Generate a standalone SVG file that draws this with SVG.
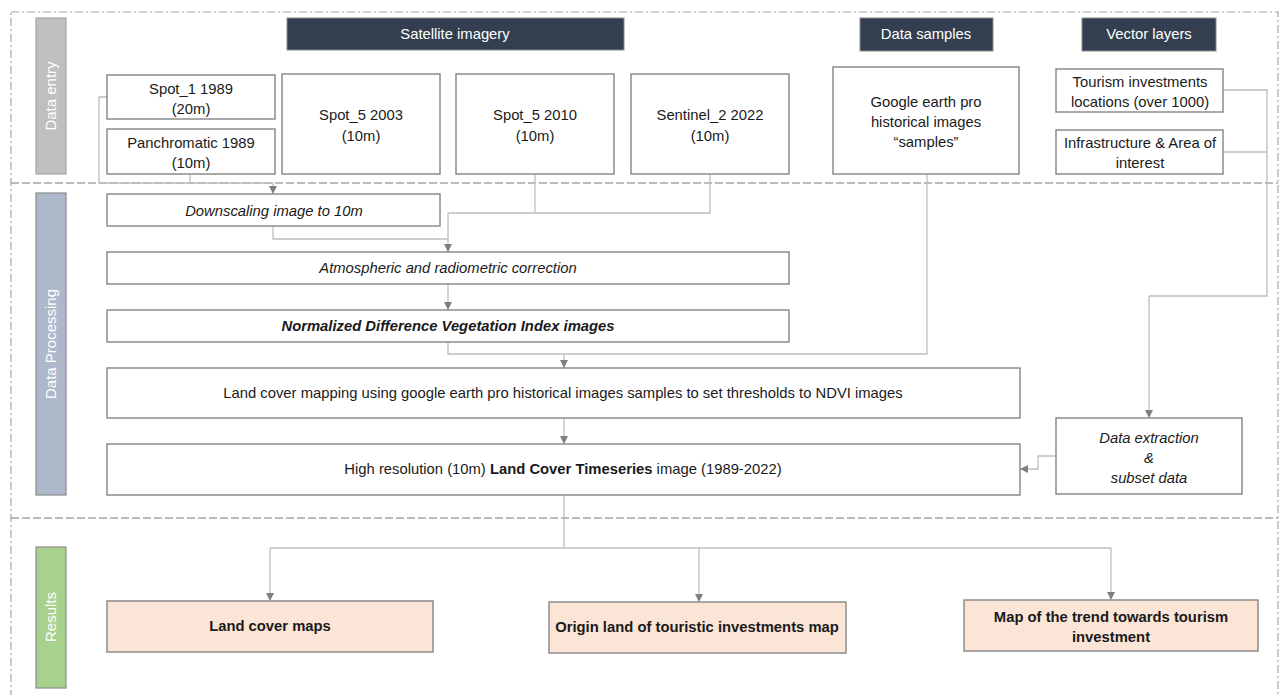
<svg xmlns="http://www.w3.org/2000/svg" width="1282" height="695" viewBox="0 0 1282 695">
<style>
text{font-family:"Liberation Sans",Arial,sans-serif;font-size:14.8px;fill:#1a1a1a;text-anchor:middle}
.box{fill:#fff;stroke:#8c8c8c;stroke-width:1.5}
.res{fill:#fbe5d6;stroke:#8c8c8c;stroke-width:1.5}
.hdr{fill:#333f50;stroke:#8c8c8c;stroke-width:1}
.hdr-t{fill:#fff}
.side-t{fill:#fff;font-size:15px}
.it{font-style:italic}
.bd{font-weight:bold}
.con{fill:none;stroke:#bfbfbf;stroke-width:1.3}
.arr{marker-end:url(#ah)}
.sep{fill:none;stroke:#a6a6a6;stroke-width:1.3;stroke-dasharray:8 3}
.outer{fill:none;stroke:#a6a6a6;stroke-width:1.2;stroke-dasharray:8 3 2 3}
</style>
<defs>
<marker id="ah" markerUnits="userSpaceOnUse" markerWidth="9" markerHeight="8" refX="8" refY="4" orient="auto">
<path d="M0,0 L8,4 L0,8 z" fill="#7f7f7f"/>
</marker>
</defs>
<rect width="1282" height="695" fill="#fff"/>
<g id="frame">
<rect class="outer" x="11" y="12" width="1267" height="700"/>
<line class="sep" x1="11" y1="183" x2="1278" y2="183"/>
<line class="sep" x1="11" y1="518" x2="1278" y2="518"/>
</g>
<g id="connectors">
<polyline class="con" points="107,97 99,97 99,183 273,183"/>
<polyline class="con" points="190,174 190,183"/>
<polyline class="con arr" points="273,183 273,194"/>
<polyline class="con" points="273,226 273,239 448,239"/>
<polyline class="con" points="535,174 535,213"/>
<polyline class="con" points="710,174 710,213 448,213"/>
<polyline class="con arr" points="448,213 448,252"/>
<polyline class="con arr" points="448,284 448,310"/>
<polyline class="con" points="448,342 448,354 927,354 927,174"/>
<polyline class="con arr" points="564,354 564,368"/>
<polyline class="con arr" points="564,418 564,444"/>
<polyline class="con" points="1223,90 1267,90 1267,296 1149,296"/>
<polyline class="con" points="1223,152 1267,152"/>
<polyline class="con arr" points="1149,296 1149,418"/>
<polyline class="con arr" points="1056,456 1038,456 1038,469 1020,469"/>
<polyline class="con" points="564,495 564,548"/>
<polyline class="con" points="270,548 1111,548"/>
<polyline class="con arr" points="270,548 270,601"/>
<polyline class="con arr" points="699,548 699,602"/>
<polyline class="con arr" points="1111,548 1111,600"/>
</g>
<g id="side-data-entry">
<rect x="36" y="18" width="30" height="156" fill="#bfbfbf" stroke="#a6a6a6" stroke-width="1.2"/>
<text class="side-t" transform="translate(56,96) rotate(-90)">Data entry</text>
</g>
<g id="side-data-processing">
<rect x="36" y="193" width="30" height="302" fill="#adb9ca" stroke="#8c8c8c" stroke-width="1.2"/>
<text class="side-t" transform="translate(56,344) rotate(-90)">Data Processing</text>
</g>
<g id="side-results">
<rect x="36" y="547" width="30" height="141" fill="#a9d18e" stroke="#8c8c8c" stroke-width="1.2"/>
<text class="side-t" transform="translate(56,617) rotate(-90)">Results</text>
</g>
<g id="hdr-satellite">
<rect class="hdr" x="287" y="18" width="337" height="32"/>
<text class="hdr-t" x="455" y="39">Satellite imagery</text>
</g>
<g id="hdr-samples">
<rect class="hdr" x="860" y="18" width="133" height="33"/>
<text class="hdr-t" x="926" y="39">Data samples</text>
</g>
<g id="hdr-vector">
<rect class="hdr" x="1082" y="18" width="134" height="33"/>
<text class="hdr-t" x="1149" y="39">Vector layers</text>
</g>
<g id="spot1">
<rect class="box" x="107" y="75" width="168" height="44"/>
<text x="191" y="94">Spot_1 1989</text>
<text x="191" y="114">(20m)</text>
</g>
<g id="panchromatic">
<rect class="box" x="107" y="129" width="168" height="45"/>
<text x="191" y="148">Panchromatic 1989</text>
<text x="191" y="168">(10m)</text>
</g>
<g id="spot5-2003">
<rect class="box" x="282" y="74" width="158" height="100"/>
<text x="361" y="120">Spot_5 2003</text>
<text x="361" y="141">(10m)</text>
</g>
<g id="spot5-2010">
<rect class="box" x="456" y="74" width="158" height="100"/>
<text x="535" y="120">Spot_5 2010</text>
<text x="535" y="141">(10m)</text>
</g>
<g id="sentinel2">
<rect class="box" x="631" y="74" width="158" height="100"/>
<text x="710" y="120">Sentinel_2 2022</text>
<text x="710" y="141">(10m)</text>
</g>
<g id="google-earth">
<rect class="box" x="833" y="67" width="186" height="107"/>
<text x="926" y="107">Google earth pro</text>
<text x="926" y="127">historical images</text>
<text x="926" y="147">“samples”</text>
</g>
<g id="tourism">
<rect class="box" x="1056" y="69" width="167" height="43"/>
<text x="1140" y="87">Tourism investments</text>
<text x="1140" y="107">locations (over 1000)</text>
</g>
<g id="infrastructure">
<rect class="box" x="1056" y="130" width="167" height="44"/>
<text x="1140" y="148">Infrastructure &amp; Area of</text>
<text x="1140" y="168">interest</text>
</g>
<g id="downscaling">
<rect class="box" x="107" y="194" width="333" height="32"/>
<text class="it" x="274" y="216">Downscaling image to 10m</text>
</g>
<g id="atmospheric">
<rect class="box" x="107" y="252" width="682" height="32"/>
<text class="it" x="448" y="273">Atmospheric and radiometric correction</text>
</g>
<g id="ndvi">
<rect class="box" x="107" y="310" width="682" height="32"/>
<text class="it bd" x="448" y="331">Normalized Difference Vegetation Index images</text>
</g>
<g id="land-cover-mapping">
<rect class="box" x="107" y="368" width="913" height="50"/>
<text x="563" y="398">Land cover mapping using google earth pro historical images samples to set thresholds to NDVI images</text>
</g>
<g id="high-resolution">
<rect class="box" x="107" y="444" width="913" height="51"/>
<text x="563" y="474">High resolution (10m) <tspan class="bd">Land Cover Timeseries</tspan> image (1989-2022)</text>
</g>
<g id="data-extraction">
<rect class="box" x="1056" y="418" width="186" height="76"/>
<text class="it" x="1149" y="443">Data extraction</text>
<text class="it" x="1149" y="463">&amp;</text>
<text class="it" x="1149" y="483">subset data</text>
</g>
<g id="land-cover-maps">
<rect class="res" x="107" y="601" width="326" height="51"/>
<text class="bd" x="270" y="631">Land cover maps</text>
</g>
<g id="origin-land">
<rect class="res" x="549" y="602" width="297" height="51"/>
<text class="bd" x="697" y="632">Origin land of touristic investments map</text>
</g>
<g id="trend-map">
<rect class="res" x="964" y="600" width="294" height="51"/>
<text class="bd" x="1111" y="622">Map of the trend towards tourism</text>
<text class="bd" x="1111" y="642">investment</text>
</g>
</svg>
